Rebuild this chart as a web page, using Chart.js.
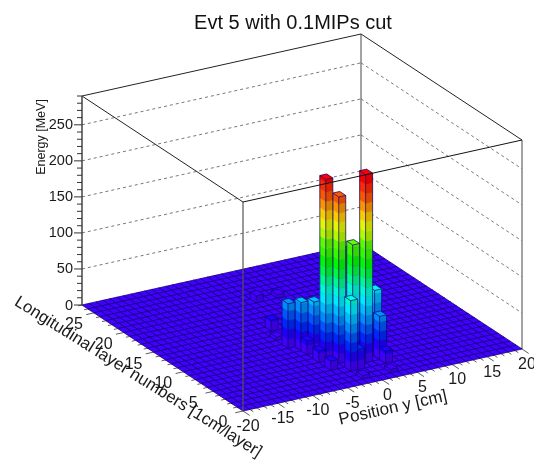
<!DOCTYPE html>
<html><head><meta charset="utf-8">
<style>html,body{margin:0;padding:0;background:#fff}canvas{display:block;filter:blur(0.35px)}</style>
<script src="https://cdn.jsdelivr.net/npm/chart.js@4/dist/chart.umd.min.js"></script>
</head><body><canvas id="c" width="534" height="464"></canvas>
<script>
// Data
const barPos    = [-3,-2, 0, 1,-2, 3, 4,-5,-4,-3,-4,-4,-4,-4,-1, 3, 2,-2,-1, 2,-4,-5];
const barLayer  = [ 6, 5, 5, 4, 3, 4, 6,10, 9, 8,10, 8, 6, 4, 3, 3, 1, 1,20,20,14,12];
const barEnergy = [252,231,160,261,98,60,83,62,67,71,12,19,16,13,28,17, 5, 5,10, 5,15, 5];
const zTicks = [0,50,100,150,200,250];
const posTicks = [-20,-15,-10,-5,0,5,10,15,20];
const layerTicks = [0,5,10,15,20,25];
const palette = ['#4400ff','#2000ff','#0028ff','#0058ff','#0090ff','#00c0ff','#00f0ff','#00ffd8','#00ff90','#00ff40','#00ff00','#38ff00','#60ff00','#b8ff00','#e8fa00','#ffd000','#ff9800','#ff5800','#ff2c00','#ff0000'];
const POS_MIN=-20, POS_MAX=20, LAYER_MIN=0, LAYER_MAX=27, Z_MAX=290, BAND=13;

const FONT='"Liberation Sans", Arial, sans-serif';
function shade(hex,f){const n=parseInt(hex.slice(1),16);return `rgb(${((n>>16)&255)*f|0},${((n>>8)&255)*f|0},${(n&255)*f|0})`;}

const lego={
 id:'lego',
 afterDatasetsDraw(chart){
  const ctx=chart.ctx, sx=chart.scales.x, sy=chart.scales.y, sz=chart.scales.z;
  const O={x:243,y:411}, PX={x:279,y:-62}, LX={x:-161,y:-106}, ZX={x:0,y:-209};
  const P=(p,l,z)=>{
    const u=(sx.getPixelForValue(p)-sx.left)/sx.width;
    const v=(sy.bottom-sy.getPixelForValue(l))/sy.height;
    const w=(sz.bottom-sz.getPixelForValue(z))/sz.height;
    return {x:O.x+u*PX.x+v*LX.x+w*ZX.x, y:O.y+u*PX.y+v*LX.y+w*ZX.y};
  };
  const line=(a,b,col,lw,dash)=>{ctx.save();ctx.strokeStyle=col;ctx.lineWidth=lw;ctx.setLineDash(dash||[]);ctx.beginPath();ctx.moveTo(a.x,a.y);ctx.lineTo(b.x,b.y);ctx.stroke();ctx.restore();};
  const poly=(pts,fill)=>{ctx.fillStyle=fill;ctx.strokeStyle=fill;ctx.lineWidth=0.4;ctx.beginPath();pts.forEach((q,i)=>i?ctx.lineTo(q.x,q.y):ctx.moveTo(q.x,q.y));ctx.closePath();ctx.fill();ctx.stroke();};
  const EDGE='#0a0070';
  const path=(pts)=>{ctx.strokeStyle=EDGE;ctx.lineWidth=0.7;ctx.beginPath();pts.forEach((q,i)=>i?ctx.lineTo(q.x,q.y):ctx.moveTo(q.x,q.y));ctx.stroke();};
  const zs=chart.data.datasets[0].data;
  const look=new Map(zs.map(d=>[d.x+'|'+d.y,d.z]));

  zTicks.slice(1).forEach(z=>{
    line(P(POS_MIN,LAYER_MAX,z),P(POS_MAX,LAYER_MAX,z),'#555',0.8,[3,3]);
    line(P(POS_MAX,LAYER_MAX,z),P(POS_MAX,LAYER_MIN,z),'#555',0.8,[3,3]);
  });
  line(P(POS_MAX,LAYER_MAX,0),P(POS_MAX,LAYER_MAX,Z_MAX),'#666',1.2);
  line(P(POS_MAX,LAYER_MIN,0),P(POS_MAX,LAYER_MIN,Z_MAX),'#666',1.2);
  line(P(POS_MIN,LAYER_MAX,Z_MAX),P(POS_MAX,LAYER_MAX,Z_MAX),'#222',1);
  line(P(POS_MAX,LAYER_MAX,Z_MAX),P(POS_MAX,LAYER_MIN,Z_MAX),'#222',1);

  for(let p=POS_MAX-1;p>=POS_MIN;p--){
   for(let l=LAYER_MAX-1;l>=LAYER_MIN;l--){
    const z=look.get(p+'|'+l)||0;
    const top=Math.min(Math.floor(z/BAND),palette.length-1);
    for(let k=0;k<=top;k++){
      const z0=k*BAND, z1=k===palette.length-1?z:Math.min((k+1)*BAND,z);
      if(z1<=z0) continue;
      poly([P(p,l,z0),P(p,l+1,z0),P(p,l+1,z1),P(p,l,z1)],shade(palette[k],0.98));
      poly([P(p,l,z0),P(p+1,l,z0),P(p+1,l,z1),P(p,l,z1)],shade(palette[k],0.85));
    }
    poly([P(p,l,z),P(p+1,l,z),P(p+1,l+1,z),P(p,l+1,z)],palette[top]);
    path([P(p,l,z),P(p+1,l,z),P(p+1,l+1,z),P(p,l+1,z),P(p,l,z)]);
    if(z>0){
      path([P(p,l,0),P(p,l,z)]);
      path([P(p+1,l,0),P(p+1,l,z)]);
      path([P(p,l+1,0),P(p,l+1,z)]);
      path([P(p,l+1,0),P(p,l,0),P(p+1,l,0)]);
    }
   }
  }

  line(P(POS_MIN,LAYER_MIN,0),P(POS_MIN,LAYER_MIN,Z_MAX),'#555',1.2);
  line(P(POS_MIN,LAYER_MIN,Z_MAX),P(POS_MAX,LAYER_MIN,Z_MAX),'#111',1);
  line(P(POS_MIN,LAYER_MIN,Z_MAX),P(POS_MIN,LAYER_MAX,Z_MAX),'#222',1);
  line(P(POS_MIN,LAYER_MAX,0),P(POS_MIN,LAYER_MAX,Z_MAX),'#444',1.5);

  ctx.fillStyle='#1a1a1a';ctx.textAlign='center';ctx.textBaseline='middle';
  for(let z=0;z<=Z_MAX;z+=10){
    const a=P(POS_MIN,LAYER_MAX,z), major=z%50===0;
    line(a,{x:a.x-(major?8:5),y:a.y},'#333',1);
  }
  ctx.font='14.5px '+FONT;ctx.textAlign='right';
  zTicks.forEach(z=>{const a=P(POS_MIN,LAYER_MAX,z);ctx.fillText(String(z),a.x-9,a.y+0.5);});
  ctx.textAlign='center';
  for(let p=POS_MIN;p<=POS_MAX;p++){
    const a=P(p,LAYER_MIN,0), len=p%5===0?8:4;
    line(a,{x:a.x+len*0.83,y:a.y+len*0.55},'#333',0.8);
  }
  ctx.font='16px '+FONT;
  posTicks.forEach(p=>{const a=P(p,LAYER_MIN,0);ctx.fillText(String(p),a.x+5,a.y+15.5);});
  for(let l=LAYER_MIN;l<=LAYER_MAX;l++){
    const a=P(POS_MIN,l,0), len=l%5===0?8:4;
    line(a,{x:a.x-len*0.97,y:a.y+len*0.22},'#333',0.8);
  }
  layerTicks.forEach(l=>{const a=P(POS_MIN,l,0);ctx.fillText(String(l),a.x-20,a.y+12);});
  const rot=(t,x,y,ang,size)=>{ctx.save();ctx.translate(x,y);ctx.rotate(ang);ctx.font=size+'px '+FONT;ctx.textAlign='center';ctx.textBaseline='middle';ctx.fillStyle='#1a1a1a';ctx.fillText(t,0,0);ctx.restore();};
  rot('Energy [MeV]',41.5,137,-Math.PI/2,12.5);
  rot('Position y [cm]',393,408,-0.22,17);
  rot('Longitudinal layer numbers [1cm/layer]',138,377,0.56,16.8);
 }
};

new Chart(document.getElementById('c'),{
 type:'scatter',
 data:{datasets:[{label:'Energy',data:barPos.map((p,i)=>({x:p,y:barLayer[i],z:barEnergy[i]})),pointRadius:0,showLine:false,xAxisID:'x',yAxisID:'y'}]},
 options:{
  responsive:false,animation:false,
  layout:{padding:{left:52}},
  parsing:false,
  plugins:{
   legend:{display:false},tooltip:{enabled:false},
   title:{display:true,text:'Evt 5 with 0.1MIPs cut',color:'#111',font:{family:FONT,size:20,weight:'normal'},padding:{top:11,bottom:0}}
  },
  scales:{
   x:{type:'linear',display:false,min:POS_MIN,max:POS_MAX},
   y:{type:'linear',display:false,min:LAYER_MIN,max:LAYER_MAX},
   z:{type:'linear',axis:'y',position:'left',display:false,min:0,max:Z_MAX}
  }
 },
 plugins:[lego]
});
</script></body></html>
